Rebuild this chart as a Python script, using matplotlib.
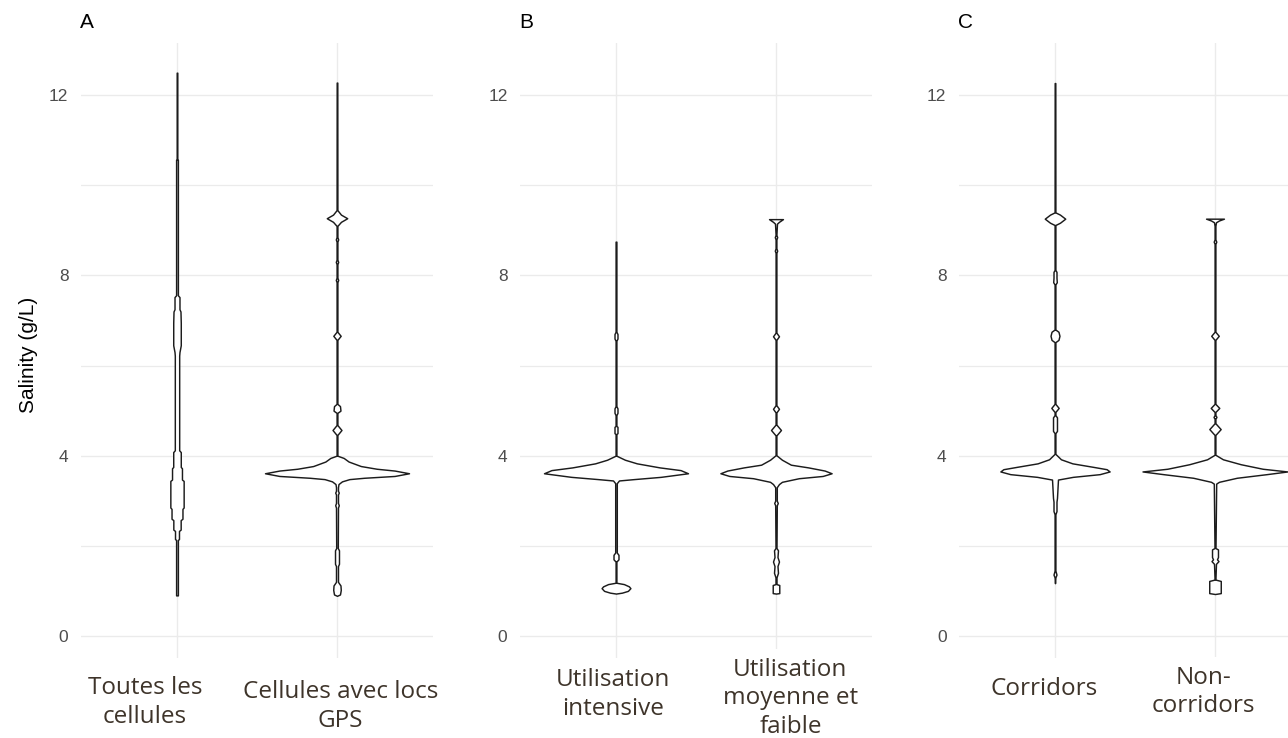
import numpy as np
import matplotlib
matplotlib.use("Agg")
import matplotlib.pyplot as plt
from matplotlib.transforms import blended_transform_factory

# ---------------- data ----------------
panel_titles = ["A", "B", "C"]
cat_labels_A = ["Toutes les\ncellules", "Cellules avec locs\nGPS"]
cat_labels_B = ["Utilisation\nintensive", "Utilisation\nmoyenne et\nfaible"]
cat_labels_C = ["Corridors", "Non-\ncorridors"]
y_ticks = [0, 4, 8, 12]
y_minor = [2, 6, 10]
y_label = "Salinity (g/L)"

# violin outlines: salinity knots and (relative) density at each knot
a1_y = [12.50, 10.58, 10.57, 7.56, 7.52, 7.25, 7.20, 6.95, 6.45, 6.30, 6.22, 4.12, 4.08, 3.75,
        3.72, 3.47, 3.44, 2.85, 2.82, 2.60, 2.57, 2.36, 2.33, 2.15, 2.13, 0.90]
a1_d = [0.3, 0.3, 0.9, 0.9, 2.5, 2.5, 3.5, 3.8, 3.8, 2.5, 2.2, 2.2, 3.8, 3.8,
        5.0, 5.0, 6.7, 6.7, 5.5, 5.5, 3.7, 3.7, 2.0, 2.0, 0.9, 0.9]

a2_y = [12.28, 9.45, 9.35, 9.27, 9.19, 9.10, 8.85, 8.80, 8.75, 8.35, 8.30, 8.25, 7.95, 7.90, 7.85,
        6.75, 6.66, 6.57, 5.15, 5.10, 5.00, 4.95, 4.68, 4.57, 4.46, 4.00,
        3.95, 3.87, 3.77, 3.71, 3.67, 3.61, 3.55, 3.51, 3.48, 3.43, 3.37, 3.30,
        3.22, 3.18, 3.14, 2.95, 2.90, 2.85, 1.95, 1.90, 1.60, 1.55, 1.20, 1.12, 1.02, 0.92, 0.89]
a2_d = [0.3, 0.4, 4.0, 10.3, 4.0, 0.4, 0.4, 1.2, 0.4, 0.4, 1.2, 0.4, 0.4, 1.2, 0.4,
        0.4, 3.7, 0.4, 0.4, 3.0, 3.5, 0.4, 0.4, 4.5, 0.4, 0.4,
        6.7, 11.7, 24.0, 40.0, 58.0, 72.5, 58.0, 27.5, 12.5, 5.0, 1.5, 1.0,
        1.0, 1.8, 1.0, 1.0, 1.8, 1.0, 0.8, 2.0, 2.0, 1.0, 1.0, 3.5, 3.8, 3.0, 0.0]

b1_y = [8.75, 6.75, 6.70, 6.60, 6.55, 5.10, 5.05, 4.95, 4.90, 4.66, 4.64, 4.50, 4.48, 4.00,
        3.91, 3.83, 3.74, 3.68, 3.61, 3.53, 3.48, 3.45, 3.39, 1.85, 1.80, 1.70, 1.65,
        1.18, 1.15, 1.10, 1.06, 1.00, 0.96, 0.94]
b1_d = [0.4, 0.4, 1.5, 1.5, 0.4, 0.4, 1.5, 1.5, 0.4, 0.4, 1.5, 1.5, 0.4, 0.4,
        9.0, 21.0, 44.0, 65.0, 72.5, 45.0, 18.0, 3.0, 0.8, 0.8, 2.5, 2.5, 0.4,
        0.4, 8.0, 13.0, 14.5, 12.0, 6.0, 0.0]

b2_y = [9.25, 9.19, 9.15, 8.90, 8.85, 8.80, 8.60, 8.55, 8.50, 6.73, 6.65, 6.57, 5.12, 5.04, 4.96,
        4.69, 4.57, 4.45, 4.01, 3.91, 3.80, 3.74, 3.67, 3.61, 3.55, 3.50, 3.42, 3.37, 3.30,
        3.00, 2.95, 2.90, 1.95, 1.90, 1.75, 1.65, 1.55, 1.40, 1.30, 1.15, 1.13, 0.95, 0.94]
b2_d = [7.0, 3.0, 1.0, 0.4, 1.2, 0.4, 0.4, 1.2, 0.4, 0.4, 3.0, 0.4, 0.4, 3.0, 0.4,
        0.4, 5.0, 0.4, 0.4, 6.0, 15.0, 32.5, 49.0, 56.0, 47.0, 23.0, 6.0, 3.0, 0.8,
        0.8, 1.8, 0.8, 0.5, 2.0, 1.5, 3.0, 1.5, 2.0, 0.5, 0.5, 3.3, 3.3, 0.0]

c1_y = [12.27, 9.40, 9.35, 9.26, 9.17, 9.12, 8.12, 8.08, 7.95, 7.85, 7.80, 6.80, 6.75, 6.66, 6.57, 6.52,
        5.15, 5.06, 4.97, 4.90, 4.85, 4.55, 4.50, 4.04, 3.92, 3.83, 3.75, 3.70, 3.65, 3.59, 3.53, 3.47,
        3.06, 2.98, 2.77, 2.70, 1.45, 1.36, 1.30, 1.17]
c1_d = [0.3, 0.4, 5.0, 10.3, 5.0, 0.4, 0.4, 1.5, 1.5, 1.8, 0.4, 0.4, 3.5, 4.5, 3.5, 0.4,
        0.4, 3.7, 0.4, 0.4, 2.0, 2.0, 0.4, 0.4, 6.0, 17.5, 39.0, 52.0, 55.0, 45.0, 18.0, 3.0,
        2.0, 1.5, 1.5, 0.4, 0.4, 1.5, 0.4, 0.0]

c2_y = [9.26, 9.22, 9.18, 9.10, 8.80, 8.75, 8.70, 6.75, 6.66, 6.57, 5.15, 5.06, 4.97, 4.90, 4.86, 4.82,
        4.72, 4.59, 4.46, 4.02, 3.92, 3.81, 3.71, 3.65, 3.59, 3.51, 3.42, 3.38,
        1.95, 1.92, 1.75, 1.70, 1.66, 1.60, 1.30, 1.25, 1.22, 0.95, 0.93]
c2_d = [9.0, 4.0, 1.0, 0.4, 0.4, 1.3, 0.4, 0.4, 3.8, 0.4, 0.4, 4.3, 0.4, 0.4, 1.5, 0.4,
        0.4, 5.7, 0.4, 0.4, 8.0, 26.0, 48.0, 73.0, 52.0, 22.0, 4.0, 1.2,
        0.5, 3.0, 3.0, 2.0, 3.5, 1.0, 0.5, 0.5, 5.8, 5.8, 0.0]

panels = [
    (cat_labels_A, [(a1_y, a1_d), (a2_y, a2_d)]),
    (cat_labels_B, [(b1_y, b1_d), (b2_y, b2_d)]),
    (cat_labels_C, [(c1_y, c1_d), (c2_y, c2_d)]),
]

# ---------------- layout / style ----------------
W, H = 1288, 738
fig = plt.figure(figsize=(W / 100, H / 100), dpi=100)
fig.patch.set_facecolor("white")

ax_lefts_px = [81, 520, 959]
ax_w_px = 352
ax_top_px, ax_bot_px = 42.5, 658
width_scale = 0.45 / 72.5          # density -> half-width (category units)
grid_col = "#EBEBEB"
tick_col = "#4D4D4D"
label_col = "#3E342A"
label_font = ["Open Sans", "DejaVu Sans"]
gg_font = ["Liberation Sans", "DejaVu Sans"]

# label centres (category units) and last-line baselines (px from top)
label_x = [[0.80, 2.02], [0.98, 2.09], [0.93, 1.93]]
label_base_px = [[723, 727], [715, 733], [695, 712]]

for i, (labels, violins) in enumerate(panels):
    left = ax_lefts_px[i] / W
    ax = fig.add_axes([left, 1 - ax_bot_px / H, ax_w_px / W, (ax_bot_px - ax_top_px) / H])
    ax.set_xlim(0.4, 2.6)
    ax.set_ylim(-0.49, 13.17)
    for s in ax.spines.values():
        s.set_visible(False)
    ax.set_xticks([1, 2])
    ax.set_xticklabels([])
    ax.set_yticks(y_ticks)
    ax.set_yticks(y_minor, minor=True)
    ax.set_yticklabels([str(t) for t in y_ticks], fontfamily=gg_font, fontsize=12.5, color=tick_col)
    ax.tick_params(axis="both", which="both", length=0)
    ax.tick_params(axis="y", pad=9)
    ax.grid(which="major", color=grid_col, lw=1.0)
    ax.grid(which="minor", axis="y", color=grid_col, lw=0.9)
    ax.set_axisbelow(True)

    for k, (vy, vd) in enumerate(violins):
        vy = np.asarray(vy, dtype=float)
        hw = np.asarray(vd, dtype=float) * width_scale
        pos = k + 1
        ax.fill_betweenx(vy, pos - hw, pos + hw, facecolor="white",
                         edgecolor="#1c1c1c", lw=1.05, zorder=3)

    trans = blended_transform_factory(ax.transData, fig.transFigure)
    for k, lab in enumerate(labels):
        ax.text(label_x[i][k], 1 - label_base_px[i][k] / H, lab, transform=trans,
                ha="center", va="baseline", multialignment="center",
                fontfamily=label_font, fontsize=17.5, color=label_col, linespacing=1.25,
                bbox=dict(boxstyle="square,pad=0.35", facecolor="white", edgecolor="none"),
                zorder=10, clip_on=False)

    fig.text(left - 1 / W, 1 - 28 / H, panel_titles[i], ha="left", va="baseline",
             fontfamily=gg_font, fontsize=15, color="black")

fig.text(29 / W, 1 - 355 / H, y_label, rotation=90, ha="center", va="center",
         fontfamily=gg_font, fontsize=15, color="black")

fig.savefig("out.png", dpi=100, facecolor="white")
